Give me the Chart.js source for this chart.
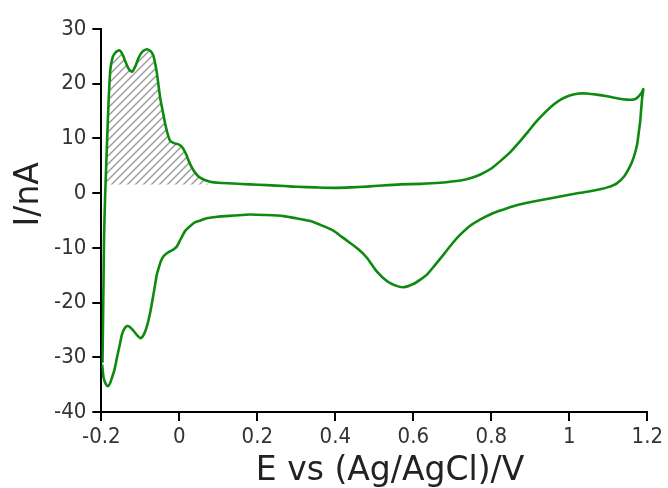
<!DOCTYPE html>
<html>
<head>
<meta charset="utf-8">
<script src="https://cdn.jsdelivr.net/npm/chart.js@4.4.0/dist/chart.umd.min.js"></script>
<style>
  html, body { margin: 0; padding: 0; background: #fff; }
  #wrap { width: 668px; height: 488px; }
</style>
</head>
<body>
<div id="wrap"><canvas id="cvChart" width="668" height="488"></canvas></div>
<script>
// cyclic voltammogram
var potential = [-0.197,-0.195,-0.193,-0.19,-0.187,-0.184,-0.181,-0.177,-0.171,-0.164,-0.154,-0.146,-0.138,-0.129,-0.121,-0.112,-0.104,-0.094,-0.083,-0.073,-0.066,-0.06,-0.057,-0.049,-0.042,-0.036,-0.029,-0.023,-0.012,-0.002,0.006,0.011,0.018,0.024,0.032,0.041,0.05,0.062,0.079,0.1,0.139,0.18,0.225,0.27,0.302,0.35,0.396,0.44,0.481,0.52,0.567,0.618,0.669,0.721,0.75,0.772,0.8,0.823,0.85,0.874,0.895,0.917,0.94,0.96,0.98,1.003,1.025,1.045,1.07,1.097,1.125,1.148,1.165,1.175,1.185,1.19,
  1.187,1.184,1.182,1.178,1.174,1.165,1.155,1.14,1.122,1.1,1.079,1.05,1.028,1.0,0.96,0.925,0.892,0.86,0.832,0.8,0.772,0.745,0.721,0.7,0.678,0.655,0.635,0.618,0.6,0.575,0.555,0.533,0.505,0.481,0.46,0.438,0.415,0.396,0.365,0.336,0.3,0.267,0.22,0.182,0.14,0.097,0.07,0.054,0.041,0.028,0.015,0.005,-0.006,-0.015,-0.023,-0.032,-0.04,-0.047,-0.053,-0.058,-0.062,-0.068,-0.074,-0.08,-0.087,-0.094,-0.1,-0.108,-0.117,-0.126,-0.134,-0.141,-0.147,-0.153,-0.16,-0.166,-0.173,-0.178,-0.183,-0.189,-0.194,-0.198]
var current = [-31,-20,-8,0,6,12,17.4,22.5,24.8,25.7,26.1,25.4,24.0,22.6,22.2,23.3,24.8,25.9,26.3,25.9,25.0,23.0,21.7,17.4,14.8,12.6,10.6,9.5,9.1,8.9,8.5,8.0,7.0,5.9,4.7,3.7,3.0,2.5,2.1,1.9,1.77,1.6,1.46,1.3,1.16,1.05,0.97,1.05,1.2,1.4,1.6,1.7,1.9,2.3,2.8,3.4,4.5,5.85,7.6,9.5,11.3,13.2,14.9,16.2,17.2,17.9,18.2,18.2,18.0,17.7,17.3,17.1,17.1,17.5,18.3,19.0,
  17.5,15,13.2,11,8.9,6.5,4.8,3.0,1.8,1.1,0.7,0.3,0.06,-0.3,-0.85,-1.3,-1.77,-2.3,-2.98,-3.8,-4.8,-6.0,-7.55,-9.2,-11.2,-13.2,-14.9,-15.8,-16.6,-17.2,-16.9,-16.1,-14.2,-11.8,-10.3,-9.1,-7.9,-6.9,-5.9,-5.1,-4.6,-4.2,-4.0,-3.9,-4.1,-4.3,-4.6,-5.0,-5.3,-6.0,-6.9,-8.2,-9.7,-10.3,-10.6,-11.0,-11.5,-12.4,-13.7,-15.0,-16.7,-19.2,-21.6,-23.5,-25.2,-26.2,-26.5,-26.0,-25.2,-24.5,-24.3,-24.8,-25.8,-27.8,-30.1,-32.2,-33.8,-34.8,-35.3,-34.8,-33.8,-31.3]

// shaded oxidation charge above the baseline
var baseline = 1.6
var hatchX = [-0.19,-0.187,-0.184,-0.181,-0.177,-0.171,-0.164,-0.154,-0.146,-0.138,-0.129,-0.121,-0.112,-0.104,-0.094,-0.083,-0.073,-0.066,-0.06,-0.057,-0.049,-0.042,-0.036,-0.029,-0.023,-0.012,-0.002,0.006,0.011,0.018,0.024,0.032,0.041,0.05,0.062,0.075]
var hatchY = [1.6,6,12,17.4,22.5,24.8,25.7,26.1,25.4,24.0,22.6,22.2,23.3,24.8,25.9,26.3,25.9,25.0,23.0,21.7,17.4,14.8,12.6,10.6,9.5,9.1,8.9,8.5,8.0,7.0,5.9,4.7,3.7,3.0,2.5,1.6]

var xTicks = [-0.2, 0, 0.2, 0.4, 0.6, 0.8, 1, 1.2]
var yTicks = [-40, -30, -20, -10, 0, 10, 20, 30]

function pts(xs, ys) {
  return xs.map(function (x, i) { return { x: x, y: ys[i] } })
}

// diagonal hatch
function hatch() {
  var c = document.createElement('canvas')
  c.width = 8; c.height = 8
  var g = c.getContext('2d')
  g.strokeStyle = '#999'
  g.lineWidth = 1.4
  g.beginPath()
  g.moveTo(-2, 10); g.lineTo(10, -2)
  g.moveTo(-2, 2); g.lineTo(2, -2)
  g.moveTo(6, 10); g.lineTo(10, 6)
  g.stroke()
  return g.createPattern(c, 'repeat')
}

var tickFont = { family: "'DejaVu Sans Condensed', 'DejaVu Sans', sans-serif", size: 22, lineHeight: 1 }
var titleFont = { family: "'DejaVu Sans', sans-serif", size: 33, lineHeight: 1 }

var ctx = document.getElementById('cvChart').getContext('2d')
var cvChart = new Chart(ctx, {
  type: 'scatter',
  data: {
    datasets: [{
      data: pts(potential, current),
      showLine: true,
      borderColor: '#0f8a10',
      borderWidth: 2.6,
      pointRadius: 0,
      tension: 0.2,
      fill: false,
      order: 1
    }, {
      data: pts(hatchX, hatchY),
      showLine: true,
      borderWidth: 0,
      borderColor: 'rgba(0,0,0,0)',
      backgroundColor: hatch(),
      pointRadius: 0,
      tension: 0.2,
      fill: { value: baseline },
      order: 2
    }]
  },
  options: {
    responsive: false,
    animation: false,
    layout: { padding: { left: 13, right: 10, top: 29, bottom: 0 } },
    plugins: { legend: { display: false }, tooltip: { enabled: false } },
    scales: {
      x: {
        type: 'linear', min: -0.2, max: 1.2,
        afterBuildTicks: function (axis) { axis.ticks = xTicks.map(function (v) { return { value: v } }) },
        grid: { drawOnChartArea: false, drawTicks: true, tickLength: 9, color: '#000', lineWidth: 2 },
        border: { color: '#000', width: 2 },
        ticks: { color: '#333', font: tickFont, padding: 5, maxRotation: 0,
          callback: function (v) { return String(Math.round(v * 10) / 10) } },
        // title sits a little right of the axis centre in the original
        title: { display: true, text: '   E vs (Ag/AgCl)/V', color: '#222', font: titleFont, padding: { top: 2, bottom: 0 } }
      },
      y: {
        type: 'linear', min: -40, max: 30,
        afterBuildTicks: function (axis) { axis.ticks = yTicks.map(function (v) { return { value: v } }) },
        grid: { drawOnChartArea: false, drawTicks: true, tickLength: 9, color: '#000', lineWidth: 2 },
        border: { color: '#000', width: 2 },
        ticks: { color: '#333', font: tickFont, padding: 6 },
        title: { display: true, text: '     I/nA', color: '#222', font: titleFont, padding: { top: 0, bottom: 2 } }
      }
    }
  }
})
</script>
</body>
</html>
